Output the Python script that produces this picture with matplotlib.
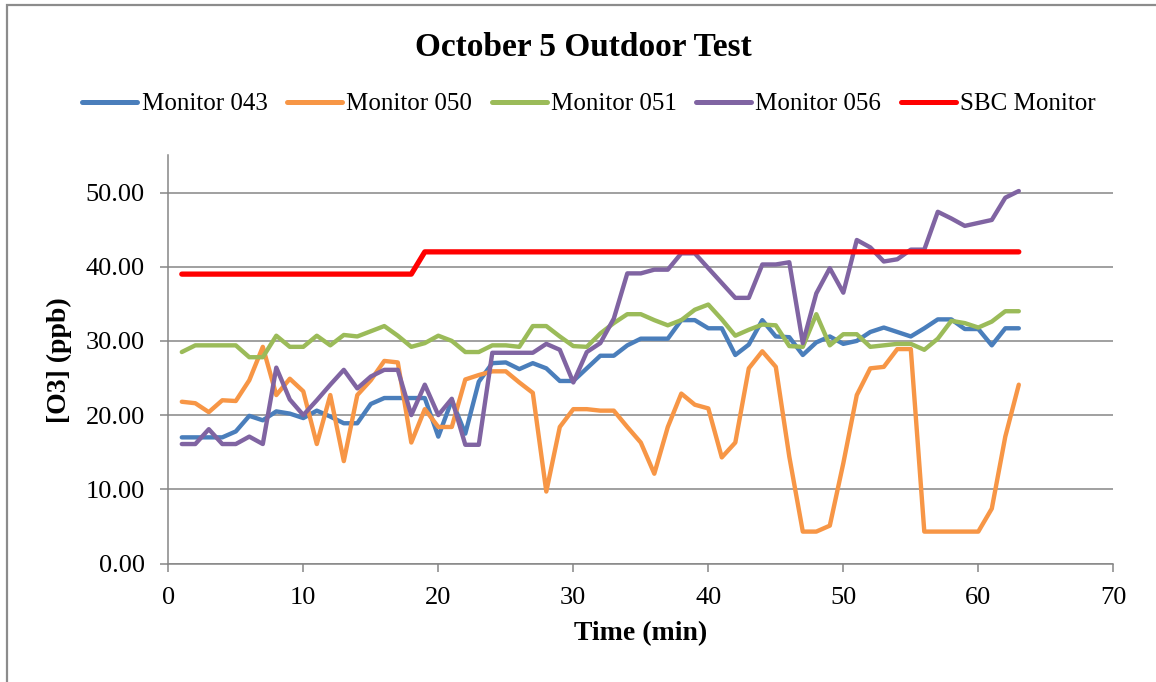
import matplotlib
matplotlib.use("Agg")
import matplotlib.pyplot as plt
from matplotlib.patches import Rectangle

minutes = list(range(1, 64))

monitor_043 = [17.0, 17.0, 17.0, 17.0, 17.8, 19.9, 19.3, 20.5, 20.2, 19.6,
               20.6, 19.8, 18.9, 18.9, 21.5, 22.3, 22.3, 22.3, 22.3, 17.1,
               22.0, 17.5, 24.5, 27.0, 27.1, 26.2, 27.0, 26.3, 24.6, 24.6,
               26.3, 28.0, 28.0, 29.4, 30.3, 30.3, 30.3, 32.8, 32.8, 31.7,
               31.7, 28.1, 29.5, 32.8, 30.6, 30.5, 28.1, 29.8, 30.6, 29.6,
               30.0, 31.2, 31.8, 31.2, 30.6, 31.7, 32.9, 32.9, 31.6, 31.6,
               29.4, 31.7, 31.7]

monitor_050 = [21.8, 21.6, 20.4, 22.0, 21.9, 24.7, 29.2, 22.7, 24.9, 23.2,
               16.1, 22.7, 13.8, 22.7, 24.7, 27.3, 27.1, 16.3, 20.8, 18.4,
               18.4, 24.8, 25.4, 25.9, 25.9, 24.4, 23.0, 9.7, 18.4, 20.8,
               20.8, 20.6, 20.6, 18.4, 16.3, 12.1, 18.4, 22.9, 21.4, 20.9,
               14.3, 16.3, 26.3, 28.6, 26.5, 14.4, 4.3, 4.3, 5.1, 13.5,
               22.7, 26.3, 26.5, 28.9, 28.9, 4.3, 4.3, 4.3, 4.3, 4.3,
               7.4, 17.1, 24.1]

monitor_051 = [28.5, 29.4, 29.4, 29.4, 29.4, 27.8, 27.8, 30.7, 29.2, 29.2,
               30.7, 29.4, 30.8, 30.6, 31.3, 32.0, 30.7, 29.2, 29.7, 30.7,
               30.0, 28.5, 28.5, 29.4, 29.4, 29.2, 32.0, 32.0, 30.6, 29.3,
               29.2, 31.0, 32.4, 33.6, 33.6, 32.8, 32.1, 32.8, 34.2, 34.9,
               32.9, 30.7, 31.5, 32.2, 32.1, 29.3, 29.2, 33.6, 29.4, 30.9,
               30.9, 29.2, 29.4, 29.6, 29.6, 28.8, 30.3, 32.7, 32.4, 31.8,
               32.6, 34.0, 34.0]

monitor_056 = [16.1, 16.1, 18.1, 16.1, 16.1, 17.1, 16.1, 26.4, 22.1, 20.0,
               22.0, 24.1, 26.1, 23.6, 25.2, 26.1, 26.1, 20.0, 24.1, 20.0,
               22.2, 16.0, 16.0, 28.4, 28.4, 28.4, 28.4, 29.6, 28.8, 24.4,
               28.5, 29.7, 33.0, 39.1, 39.1, 39.6, 39.6, 41.8, 41.8, 39.8,
               37.8, 35.8, 35.8, 40.3, 40.3, 40.6, 29.7, 36.4, 39.8, 36.5,
               43.6, 42.6, 40.7, 41.0, 42.3, 42.3, 47.4, 46.5, 45.5, 45.9,
               46.3, 49.3, 50.2]

sbc_monitor = [39.0, 39.0, 39.0, 39.0, 39.0, 39.0, 39.0, 39.0, 39.0, 39.0,
               39.0, 39.0, 39.0, 39.0, 39.0, 39.0, 39.0, 39.0, 42.0, 42.0,
               42.0, 42.0, 42.0, 42.0, 42.0, 42.0, 42.0, 42.0, 42.0, 42.0,
               42.0, 42.0, 42.0, 42.0, 42.0, 42.0, 42.0, 42.0, 42.0, 42.0,
               42.0, 42.0, 42.0, 42.0, 42.0, 42.0, 42.0, 42.0, 42.0, 42.0,
               42.0, 42.0, 42.0, 42.0, 42.0, 42.0, 42.0, 42.0, 42.0, 42.0,
               42.0, 42.0, 42.0]

series_names = ["Monitor 043", "Monitor 050", "Monitor 051", "Monitor 056", "SBC Monitor"]
series_colors = ["#4A7EBB", "#F79646", "#9BBB59", "#8064A2", "#FF0000"]
x_ticks = [0, 10, 20, 30, 40, 50, 60, 70]
y_ticks = [0, 10, 20, 30, 40, 50]

W, H = 1156, 682
plt.rcParams['font.family'] = ['Liberation Serif', 'DejaVu Serif']

fig = plt.figure(figsize=(W / 100, H / 100), dpi=100)
fig.patch.set_facecolor("white")

# chart border (top/left visible)
fig.patches.append(Rectangle((7 / W, -0.1), 1.2, 1 - 5 / H + 0.1, transform=fig.transFigure,
                             fill=False, edgecolor="#8C8C8C", linewidth=1.6))

ax = fig.add_axes([168.3 / W, 1 - 563.5 / H, (1113.3 - 168.3) / W, (563.5 - 155.4) / H])

data = [monitor_043, monitor_050, monitor_051, monitor_056, sbc_monitor]
for name, vals, col in zip(series_names, data, series_colors):
    lw = 3.8 if name == "SBC Monitor" else 3.15
    ax.plot(minutes, vals, color=col, linewidth=lw, label=name,
            solid_capstyle="round", solid_joinstyle="round", zorder=3)

ax.set_xlim(0, 70)
ax.set_ylim(0, 55)
ax.set_xticks(x_ticks)
ax.set_yticks(y_ticks)
ax.set_xticklabels([str(v) for v in x_ticks])
ax.set_yticklabels([f"{v:.2f}" for v in y_ticks])
ax.yaxis.grid(True, color="#868686", linewidth=1.1)
ax.set_axisbelow(True)
for s in ["top", "right"]:
    ax.spines[s].set_visible(False)
for s in ["left", "bottom"]:
    ax.spines[s].set_color("#868686")
    ax.spines[s].set_linewidth(1.1)
ax.tick_params(axis="both", direction="out", length=6, width=1.1, color="#868686",
               labelsize=19, pad=11, labelcolor="black")

fig.text(583 / W, 1 - 56 / H, "October 5 Outdoor Test", ha="center", va="baseline",
         fontsize=24, fontweight="bold")
fig.text(640.5 / W, 1 - 640 / H, "Time (min)", ha="center", va="baseline",
         fontsize=20, fontweight="bold")
fig.text(59 / W, 1 - 360 / H, "[O3] (ppb)", ha="center", va="center", rotation=90,
         fontsize=20, fontweight="bold")

handles, labels = ax.get_legend_handles_labels()
leg = fig.legend(handles, labels, loc="center", bbox_to_anchor=(589 / W, 1 - 104 / H),
                 ncol=5, frameon=False, fontsize=18, handlelength=2.2,
                 handletextpad=0.17, columnspacing=0.78, borderpad=0)
for lh in leg.get_lines():
    lh.set_linewidth(3.6)

fig.savefig("out.png", dpi=100, facecolor="white")
